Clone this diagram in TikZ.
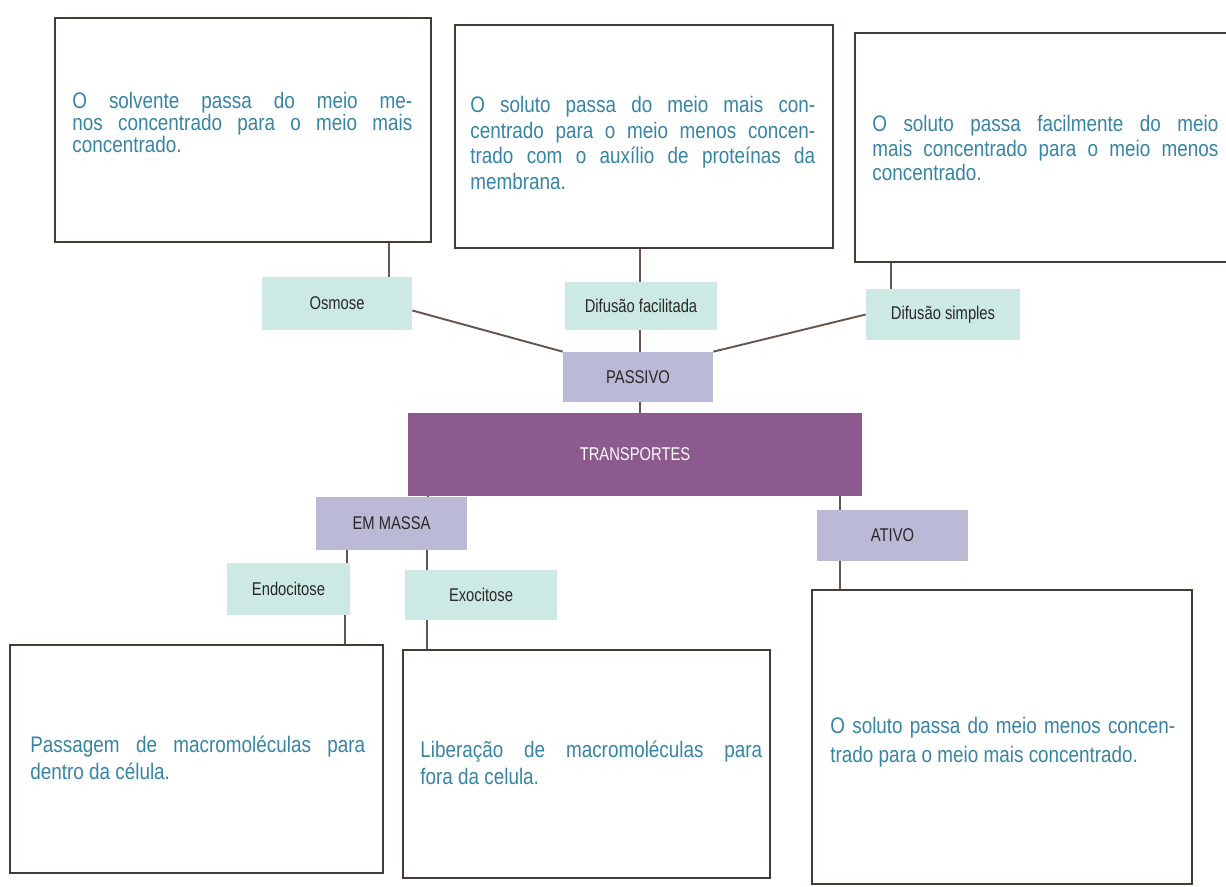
\documentclass[tikz,border=0pt]{standalone}
\usepackage{fontspec}
\setmainfont{Liberation Sans}
\newfontfamily\bodyfont[FakeStretch=0.84]{Liberation Sans}
\newfontfamily\labfont[FakeStretch=0.8]{Liberation Sans}
\usetikzlibrary{calc}
\definecolor{boxline}{RGB}{70,58,52}
\definecolor{conn}{RGB}{105,85,75}
\definecolor{txtblue}{RGB}{55,132,165}
\definecolor{tealfill}{RGB}{204,234,227}
\definecolor{lavfill}{RGB}{186,186,214}
\definecolor{purpfill}{RGB}{140,90,142}
\definecolor{labtxt}{RGB}{40,40,40}
\newcommand\justline[2]{\makebox[#1][s]{#2}}
\begin{document}
\begin{tikzpicture}[x=0.02cm,y=-0.02cm,
  bigbox/.style={draw=boxline, line width=1.4pt, inner sep=0pt, fill=white},
  desc/.style={anchor=west, inner sep=0pt, align=left, text=txtblue, font=\bodyfont\fontsize{12.8}{#1}\selectfont},
  lab/.style={inner sep=0pt, font=\labfont\fontsize{10.5}{12}\selectfont, text=labtxt},
  leaf/.style={lab, fill=tealfill},
  midbox/.style={lab, fill=lavfill},
  rootbox/.style={lab, fill=purpfill, text=white},
  link/.style={draw=conn, line width=1.1pt}]
\useasboundingbox (0,0) rectangle (1226,886);
\clip (0,0) rectangle (1226,886);
\fill[white] (0,0) rectangle (1226,886);

% big description boxes
\node[bigbox, minimum width=7.52cm, minimum height=4.48cm] (tl) at (243,130) {};
\node[bigbox, minimum width=7.56cm, minimum height=4.46cm] (tm) at (644,136.5) {};
\node[bigbox, minimum width=7.7cm, minimum height=4.58cm] (tr) at (1047.5,147.5) {};
\node[bigbox, minimum width=7.46cm, minimum height=4.56cm] (bl) at (196.5,759) {};
\node[bigbox, minimum width=7.34cm, minimum height=4.56cm] (bm) at (586.5,764) {};
\node[bigbox, minimum width=7.6cm, minimum height=5.88cm] (br) at (1002,737) {};

% texts
\node[desc=12.5] (ttl) at (72,122) {\justline{6.8cm}{O solvente passa do meio me-}\\\justline{6.8cm}{nos concentrado para o meio mais}\\concentrado.};
\node[desc=14.7] (ttm) at (470,143) {\justline{6.9cm}{O soluto passa do meio mais con-}\\\justline{6.9cm}{centrado para o meio menos concen-}\\\justline{6.9cm}{trado com o auxílio de proteínas da}\\membrana.};
\node[desc=14.2] (ttr) at (872,148) {\justline{6.92cm}{O soluto passa facilmente do meio}\\\justline{6.92cm}{mais concentrado para o meio menos}\\concentrado.};
\node[desc=15.3] (tbl) at (30,758) {\justline{6.7cm}{Passagem de macromoléculas para}\\dentro da célula.};
\node[desc=15.3] (tbm) at (420,763) {\justline{6.84cm}{Liberação de macromoléculas para}\\fora da celula.};
\node[desc=16.4] (tbr) at (830,742) {\justline{6.9cm}{O soluto passa do meio menos concen-}\\trado para o meio mais concentrado.};

% label boxes
\node[leaf, minimum width=3.0cm, minimum height=1.06cm] (osm) at (337,303.5) {Osmose};
\node[leaf, minimum width=3.04cm, minimum height=0.96cm] (dfac) at (641,306) {Difusão facilitada};
\node[leaf, minimum width=3.08cm, minimum height=1.02cm] (dsim) at (943,314.5) {Difusão simples};
\node[midbox, minimum width=3.0cm, minimum height=1.0cm] (pas) at (638,377) {PASSIVO};
\node[rootbox, minimum width=9.08cm, minimum height=1.66cm] (trans) at (635,454.5) {TRANSPORTES};
\node[midbox, minimum width=3.02cm, minimum height=1.06cm] (emm) at (391.5,523.5) {EM MASSA};
\node[midbox, minimum width=3.02cm, minimum height=1.02cm] (ativo) at (892.5,535.5) {ATIVO};
\node[leaf, minimum width=2.46cm, minimum height=1.04cm] (endo) at (288.5,589) {Endocitose};
\node[leaf, minimum width=3.04cm, minimum height=1.0cm] (exo) at (481,595) {Exocitose};

% x positions of vertical connectors
\coordinate (xa) at (389,0);
\coordinate (xb) at (640,0);
\coordinate (xc) at (891,0);
\coordinate (xd) at (428,0);
\coordinate (xe) at (840,0);
\coordinate (xf) at (347,0);
\coordinate (xg) at (427,0);
\coordinate (xh) at (345,0);

% connectors
\draw[link] (tl.south -| xa) -- (osm.north -| xa);
\draw[link] (tm.south -| xb) -- (dfac.north -| xb);
\draw[link] (tr.south -| xc) -- (dsim.north -| xc);
\draw[link] ([yshift=-0.14cm]osm.east) -- (pas.north west);
\draw[link] (dsim.west) -- (pas.north east);
\draw[link] (dfac.south -| xb) -- (pas.north -| xb);
\draw[link] (pas.south -| xb) -- (trans.north -| xb);
\draw[link] (trans.south -| xd) -- (emm.north -| xd);
\draw[link] (trans.south -| xe) -- (ativo.north -| xe);
\draw[link] (emm.south -| xf) -- (endo.north -| xf);
\draw[link] (emm.south -| xg) -- (exo.north -| xg);
\draw[link] (ativo.south -| xe) -- (br.north -| xe);
\draw[link] (endo.south -| xh) -- (bl.north -| xh);
\draw[link] (exo.south -| xg) -- (bm.north -| xg);
\end{tikzpicture}
\end{document}
